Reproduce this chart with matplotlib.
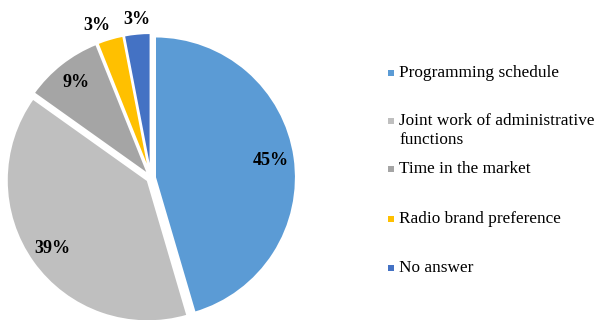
import matplotlib
matplotlib.use("Agg")
import matplotlib.pyplot as plt
from matplotlib.patches import Rectangle

categories = ["Programming schedule", "Joint work of administrative\nfunctions",
              "Time in the market", "Radio brand preference", "No answer"]
shares = [45, 39, 9, 3, 3]
colors = ["#5B9BD5", "#BFBFBF", "#A5A5A5", "#FFC000", "#4472C4"]

plt.rcParams["font.family"] = ["Liberation Serif", "DejaVu Serif"]

W, H = 595, 320
fig = plt.figure(figsize=(W / 100, H / 100), dpi=100)
ax = fig.add_axes([0, 0, 1, 1])

# pie drawn in pixel units: centre, radius, and a few px of explode per slice
cx, cy, r = 151, H - 178, 141
wedges, texts, autotexts = ax.pie(
    shares, colors=colors, startangle=90, counterclock=False,
    center=(cx, cy), radius=r, explode=[4] * len(shares),
    autopct="%.0f%%", pctdistance=0.83,
    wedgeprops=dict(edgecolor="white", linewidth=1.5),
    textprops=dict(fontsize=13, fontweight="bold", color="black"),
    frame=True)
ax.set_xlim(0, W)
ax.set_ylim(0, H)
ax.set_aspect("equal")
ax.axis("off")

# the two small slices get their labels just outside the rim
autotexts[3].set_position((97, H - 25))
autotexts[4].set_position((137, H - 20))

# hand-placed legend on the right
rows = [73, 121, 169, 219, 268]
for y, lab, c in zip(rows, categories, colors):
    ax.add_patch(Rectangle((388, H - y - 3), 6, 6, facecolor=c, edgecolor="none"))
    n = lab.count("\n")
    ax.text(399, H - y - n * 9.5, lab, fontsize=12.4, va="center",
            color="black", linespacing=1.2)

fig.savefig("out.png", dpi=100)
